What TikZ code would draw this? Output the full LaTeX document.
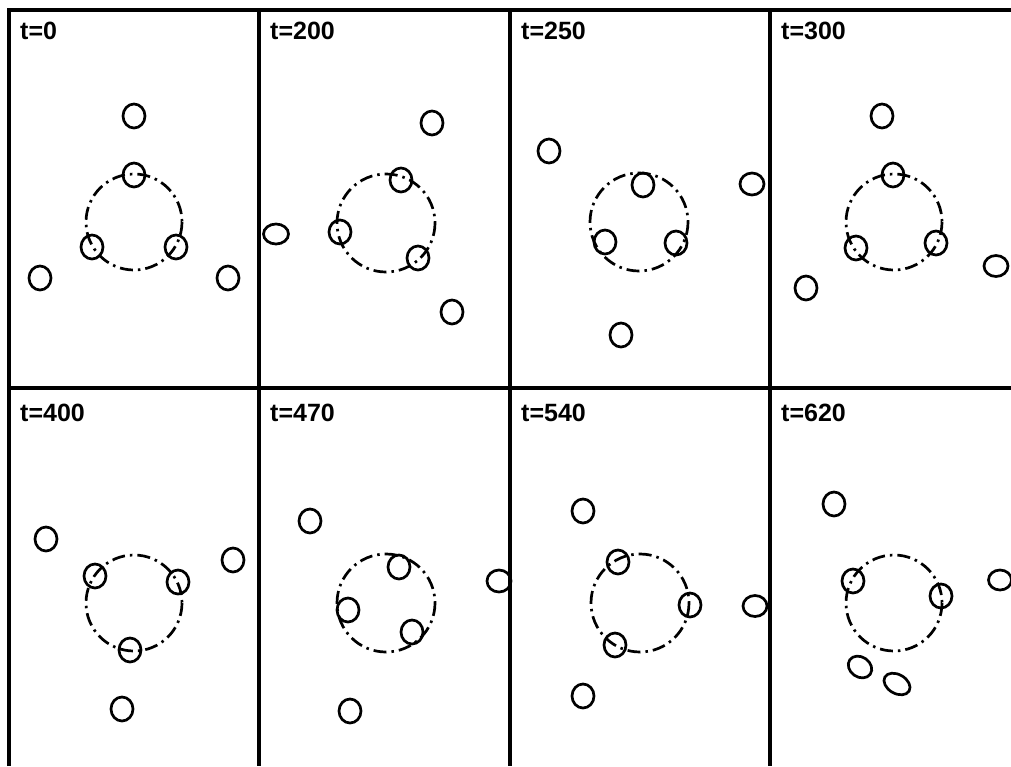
\documentclass[tikz,border=0pt]{standalone}
\usepackage{fontspec}
\setmainfont{Liberation Sans}
\begin{document}
\begin{tikzpicture}[x=1pt,y=-1pt,
  frame/.style={line width=3.2pt},
  blob/.style={line width=2.7pt},
  orbit/.style={line width=2.7pt,dash pattern=on 13pt off 5pt on 2.5pt off 5pt},
  stamp/.style={anchor=base west,inner sep=0pt,font=\fontsize{25}{25}\selectfont\bfseries}]
\useasboundingbox (0,0) rectangle (1011,766);
\draw[frame] (9,766) -- (9,10) -- (1011,10);
\draw[frame] (9,388) -- (1011,388);
\draw[frame] (259,10) -- (259,766);
\draw[frame] (510,10) -- (510,766);
\draw[frame] (770,10) -- (770,766);
\node[stamp] (lab0) at (20,39) {t=0};
\node[stamp] (lab200) at (270,39) {t=200};
\node[stamp] (lab250) at (521,39) {t=250};
\node[stamp] (lab300) at (781,39) {t=300};
\node[stamp] (lab400) at (20,421) {t=400};
\node[stamp] (lab470) at (270,421) {t=470};
\node[stamp] (lab540) at (521,421) {t=540};
\node[stamp] (lab620) at (781,421) {t=620};
\draw[orbit] (134,222) circle (48);
\draw[orbit] (386,223) circle (49);
\draw[orbit] (639,222) circle (49);
\draw[orbit] (894,222) circle (48);
\draw[orbit] (134,603) circle (48);
\draw[orbit] (386,603) circle (49);
\draw[orbit] (640,603) circle (49);
\draw[orbit] (894,603) circle (48);
\foreach \px/\py in {134/116,134/175,92/247,176/247,40/278,228/278,
    432/123,401/180,340/232,418/258,452/312,
    549/151,643/185,605/242,676/243,621/335,
    882/116,893/175,856/248,936/243,806/288,
    46/539,95/576,178/582,130/650,233/560,122/709,
    310/521,399/567,348/610,412/632,350/711,
    583/511,618/562,690/605,615/645,583/696,
    834/504,853/581,941/596}
  \draw[blob] (\px,\py) ellipse [x radius=11,y radius=12];
\draw[blob] (276,234) ellipse [x radius=12.5,y radius=10];
\draw[blob] (752,184) ellipse [x radius=12,y radius=11];
\draw[blob] (996,266) ellipse [x radius=12,y radius=10.5];
\draw[blob] (499,581) ellipse [x radius=12,y radius=11];
\draw[blob] (755,606) ellipse [x radius=12,y radius=10.5];
\draw[blob] (1000,580) ellipse [x radius=11.5,y radius=10];
\draw[blob,rotate around={-35:(860,667)}] (860,667) ellipse [x radius=12.5,y radius=10];
\draw[blob,rotate around={-30:(897,684)}] (897,684) ellipse [x radius=14,y radius=9.5];
\end{tikzpicture}
\end{document}
